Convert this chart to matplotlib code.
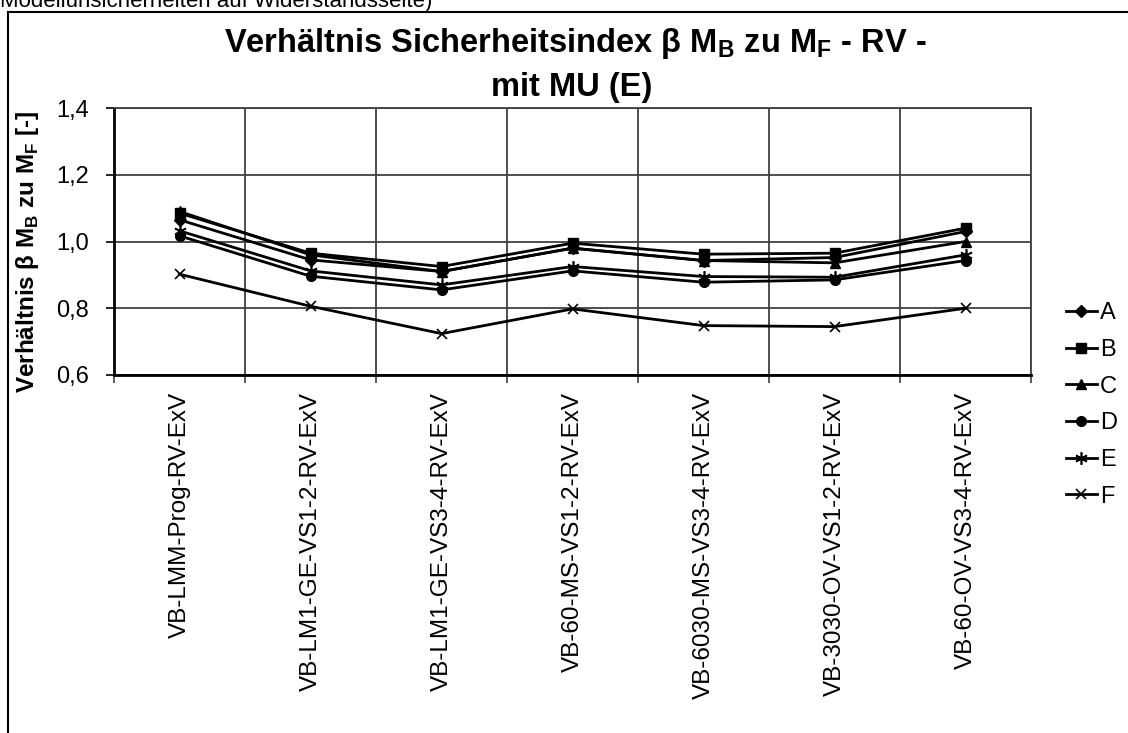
import matplotlib
matplotlib.use("Agg")
import matplotlib.pyplot as plt
from matplotlib.patches import Rectangle
from matplotlib.ticker import FixedLocator, NullFormatter

plt.rcParams['font.family'] = ['Liberation Sans', 'DejaVu Sans']
plt.rcParams['mathtext.fontset'] = 'custom'
plt.rcParams['mathtext.rm'] = 'Liberation Sans'
plt.rcParams['mathtext.bf'] = 'Liberation Sans:bold'

categories = ["VB-LMM-Prog-RV-ExV", "VB-LM1-GE-VS1-2-RV-ExV", "VB-LM1-GE-VS3-4-RV-ExV",
              "VB-60-MS-VS1-2-RV-ExV", "VB-6030-MS-VS3-4-RV-ExV", "VB-3030-OV-VS1-2-RV-ExV",
              "VB-60-OV-VS3-4-RV-ExV"]
A = [1.065, 0.945, 0.910, 0.980, 0.943, 0.952, 1.030]
B = [1.085, 0.965, 0.925, 0.995, 0.962, 0.965, 1.040]
C = [1.090, 0.960, 0.910, 0.980, 0.943, 0.936, 1.000]
D = [1.017, 0.896, 0.855, 0.912, 0.878, 0.885, 0.943]
E = [1.032, 0.912, 0.870, 0.925, 0.895, 0.893, 0.960]
F = [0.902, 0.806, 0.724, 0.798, 0.748, 0.745, 0.800]
series_names = ["A", "B", "C", "D", "E", "F"]
yticks = [0.6, 0.8, 1.0, 1.2, 1.4]
ytick_labels = ["0,6", "0,8", "1,0", "1,2", "1,4"]

W, H = 1128, 733
fig = plt.figure(figsize=(W / 100, H / 100), dpi=100)
ax = fig.add_axes([114 / W, 1 - 375 / H, (1031 - 114) / W, (375 - 108) / H])

markers = ['D', 's', '^', 'o', (6, 2, 0), 'x']
msizes = [6, 6.5, 7, 7, 9, 7]
x = list(range(len(categories)))
for name, vals, m, ms in zip(series_names, [A, B, C, D, E, F], markers, msizes):
    ax.plot(x, vals, color='black', lw=2, marker=m, markersize=ms,
            markeredgewidth=1.2 if m in ('x', (6, 2, 0)) else 1,
            label=name, clip_on=False)

ax.set_xlim(-0.5, len(categories) - 0.5)
ax.set_ylim(0.6, 1.4)
ax.set_yticks(yticks)
ax.set_yticklabels(ytick_labels, fontsize=17)
ax.set_xticks(x)
ax.set_xticklabels(categories, rotation=90, fontsize=17.5, va='top')
ax.tick_params(axis='x', which='major', length=0, pad=12)
ax.xaxis.set_minor_locator(FixedLocator([i - 0.5 for i in range(len(categories) + 1)]))
ax.xaxis.set_minor_formatter(NullFormatter())
ax.tick_params(axis='x', which='minor', length=6, width=1.2, color='#404040')
ax.tick_params(axis='y', which='major', length=6, width=1.2, pad=12)

ax.grid(True, axis='y', which='major', color='#404040', lw=1.3)
ax.grid(True, axis='x', which='minor', color='#404040', lw=1.3)
ax.set_axisbelow(True)
for s in ['top', 'right']:
    ax.spines[s].set_color('#404040')
    ax.spines[s].set_linewidth(1.3)
for s in ['left', 'bottom']:
    ax.spines[s].set_color('black')
    ax.spines[s].set_linewidth(2)

fig.text(28 / W, 1 - 252 / H, r"Verhältnis β M$_\mathbf{B}$ zu M$_\mathbf{F}$ [-]",
         rotation=90, fontsize=17.5, fontweight='bold', ha='center', va='center')

fig.text(575 / W, 1 - 52 / H,
         "Verhältnis Sicherheitsindex β M$_\\mathbf{B}$ zu M$_\\mathbf{F}$ - RV -",
         ha='center', va='baseline', fontsize=23.5, fontweight='bold')
fig.text(572 / W, 1 - 96 / H, "mit MU (E)",
         ha='center', va='baseline', fontsize=23.5, fontweight='bold')

leg = fig.legend(loc='center left', bbox_to_anchor=(1066 / W, 1 - 405 / H), frameon=False,
                 fontsize=17, handlelength=1.3, handletextpad=0.15, labelspacing=0.62,
                 borderaxespad=0, borderpad=0)

fig.text(0, 1 - 7 / H, "Modellunsicherheiten auf Widerstandsseite)", fontsize=16,
         ha='left', va='baseline')
fig.patches.append(Rectangle((8 / W, -0.1), 2, (H - 12) / H + 0.1, transform=fig.transFigure,
                             fill=False, edgecolor='black', lw=1.5))

fig.savefig("out.png", dpi=100)
